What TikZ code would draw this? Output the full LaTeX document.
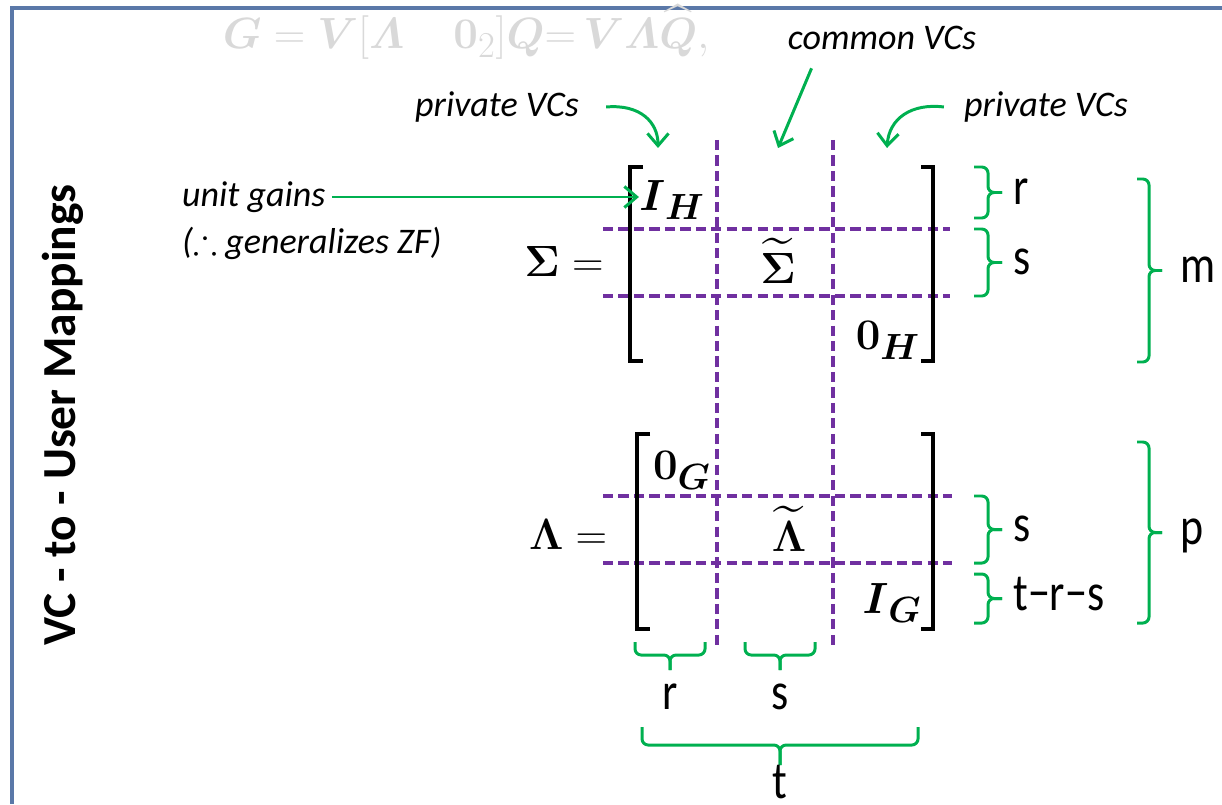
\documentclass[tikz,border=0pt]{standalone}
\usepackage[no-math]{fontspec}
\setmainfont{Carlito}
\usepackage{amsmath,amssymb}
\usepackage{graphicx}
\usepackage{tikz}
\usetikzlibrary{arrows.meta}
\definecolor{INK}{HTML}{000000}
\definecolor{GREEN}{HTML}{00B050}
\definecolor{PURPLE}{HTML}{7030A0}
\definecolor{FRAME}{HTML}{5A78A8}
\definecolor{FAINT}{HTML}{D9D9D9}
\newcommand{\tall}[1]{\scalebox{1}[1.2]{#1}}

\begin{document}
\begin{tikzpicture}[
  x=0.02cm, y=-0.02cm,
  note/.style={font=\fontsize{20.5}{24}\selectfont\itshape, text=INK},
  dimlbl/.style={font=\fontsize{25}{30}\selectfont, text=INK, inner sep=0pt},
  entry/.style={font=\fontsize{31}{36}\selectfont, text=INK, inner sep=0pt},
  grid/.style={draw=PURPLE, line width=1.8pt, dash pattern=on 5.8pt off 3pt},
  brk/.style={draw=INK, line width=2.3pt},
  brc/.style={draw=GREEN, line width=1.7pt, rounded corners=3.5pt},
  call/.style={draw=GREEN, line width=1.7pt, -{Straight Barb[length=7pt, width=12pt]}},
]
\useasboundingbox (0,0) rectangle (1222,804);

% ---- frame and faint formula ----------------------------------------------
\draw[FRAME, line width=1.8pt] (1222,8) -- (12,8) -- (12,804);
\node[font=\fontsize{28}{32}\selectfont, text=FAINT, anchor=base] (eqG) at (466,49)
  {$\boldsymbol{G} = \boldsymbol{V}[\boldsymbol{\varLambda}\quad \mathbf{0}_{2}]\boldsymbol{Q}{=}\,\boldsymbol{V}\boldsymbol{\varLambda}\widehat{\boldsymbol{Q}},$};

% ---- side title -----------------------------------------------------------
\node[rotate=90, font=\fontsize{27}{32}\selectfont\bfseries] (side) at (63,415) {VC - to - User Mappings};

% ---- callout labels -------------------------------------------------------
\node[note] (pvL) at (497,107) {private VCs};
\node[note] (cvc) at (882,38) {common VCs};
\node[note] (pvR) at (1046,107) {private VCs};
\node[note, anchor=west] (ug) at (176,197) {unit gains};
\node[note, anchor=west] (zf) at (176,243) {(\(\therefore\) generalizes ZF)};

% ---- block partition ------------------------------------------------------
\draw[grid] (603,229) -- (950,229);
\draw[grid] (603,296) -- (950,296);
\draw[grid] (603,496) -- (952,496);
\draw[grid] (603,563) -- (952,563);
\draw[grid] (717,140) -- (717,650);
\draw[grid] (833,140) -- (833,650);

% ---- brackets -------------------------------------------------------------
\draw[brk] (643,167) -- (630,167) -- (630,361) -- (643,361);
\draw[brk] (921,167) -- (933,167) -- (933,361) -- (921,361);
\draw[brk] (650,434) -- (637,434) -- (637,629) -- (650,629);
\draw[brk] (921,434) -- (933,434) -- (933,629) -- (921,629);

% ---- entries --------------------------------------------------------------
\node[entry] (SigEq) at (564,262) {$\mathbf{\Sigma} =$};
\node[entry] (IH) at (672,200) {$\boldsymbol{I}_{\boldsymbol{H}}$};
\node[entry] (SigT) at (778,261) {$\widetilde{\mathbf{\Sigma}}$};
\node[entry] (ZH) at (888,340) {$\mathbf{0}_{\boldsymbol{H}}$};
\node[entry] (LamEq) at (568,534) {$\mathbf{\Lambda} =$};
\node[entry] (ZG) at (682,470) {$\mathbf{0}_{\boldsymbol{G}}$};
\node[entry] (LamT) at (789,529) {$\widetilde{\mathbf{\Lambda}}$};
\node[entry] (IG) at (892,603) {$\boldsymbol{I}_{\boldsymbol{G}}$};

% ---- callout arrows -------------------------------------------------------
\coordinate (tipL) at (658,148);
\coordinate (tipC) at (778,148);
\coordinate (tipR) at (887,148);
\draw[call] (ug.east) -- (ug.east -| IH.west);
\draw[call] ([xshift=12pt]pvL.east) .. controls (640,104) and (658,122) .. (tipL);
\draw[call] ([xshift=17pt,yshift=-7pt]cvc.south west) -- (tipC);
\draw[call] ([xshift=-8pt]pvR.west) .. controls (912,103) and (889,118) .. (tipR);

% ---- row braces -----------------------------------------------------------
\foreach \ya/\yb/\txt [count=\i] in {167/218/r, 229/296/s, 496/563/s, 574/623/t−r−s} {
  \pgfmathsetmacro\ym{(\ya+\yb)/2}
  \draw[brc] (974,\ya) -| (988,\ym) -- (1002,\ym);
  \draw[brc] (974,\yb) -| (988,\ym) -- (1002,\ym);
  \node[dimlbl, anchor=base west] (rb\i) at (1013,\ym+12) {\tall{\txt}};
}
\foreach \ya/\yb/\txt [count=\i] in {179/362/m, 442/623/p} {
  \pgfmathsetmacro\ym{(\ya+\yb)/2}
  \draw[brc] (1137,\ya) -| (1149,\ym) -- (1162,\ym);
  \draw[brc] (1137,\yb) -| (1149,\ym) -- (1162,\ym);
  \node[dimlbl, anchor=base west] (bb\i) at (1180,\ym+12) {\tall{\txt}};
}

% ---- column braces --------------------------------------------------------
\foreach \xa/\xb/\txt [count=\i] in {635/705/r, 745/815/s} {
  \pgfmathsetmacro\xm{(\xa+\xb)/2}
  \draw[brc] (\xa,642) |- (\xm,655) -- (\xm,670);
  \draw[brc] (\xb,642) |- (\xm,655) -- (\xm,670);
  \node[dimlbl, anchor=base] (cb\i) at (\xm,709) {\tall{\txt}};
}
\draw[brc] (642,727) |- (780,745) -- (780,765);
\draw[brc] (918,727) |- (780,745) -- (780,765);
\node[dimlbl, anchor=base] (tb) at (780,798) {\tall{t}};

\end{tikzpicture}
\end{document}
